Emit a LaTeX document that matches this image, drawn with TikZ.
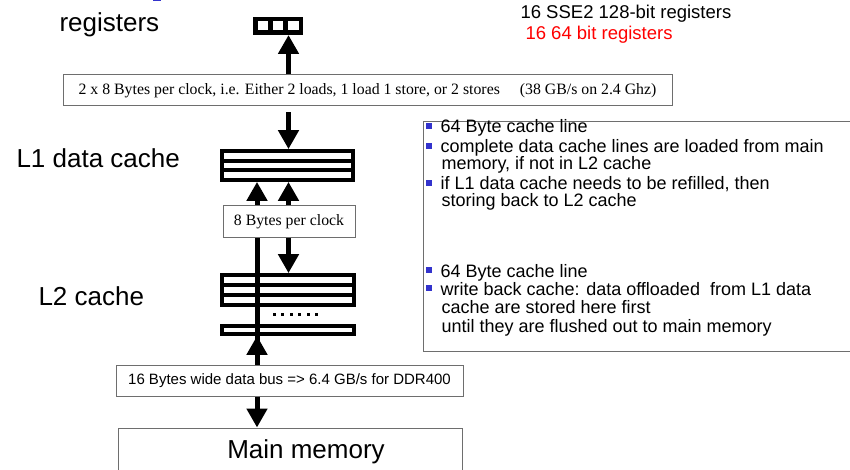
\documentclass[tikz,border=0pt]{standalone}
\usepackage{fontspec}
\setmainfont{Liberation Sans}
\newfontfamily\timesfont{Liberation Serif}
\usetikzlibrary{arrows.meta}
\definecolor{bulletblue}{RGB}{51,51,204}
\definecolor{boxgray}{RGB}{110,110,110}
\tikzset{
  bigarrow/.style={line width=5pt,-{Triangle[width=20pt,length=19pt]}},
  cacheblock/.style={draw,line width=4.3pt,inner sep=0pt,fill=white},
  infobox/.style={draw=boxgray,line width=1pt,fill=white,inner sep=0pt},
  biglabel/.style={font=\fontsize{26}{30}\selectfont,anchor=base west},
  note/.style={font=\fontsize{18}{22}\selectfont,anchor=base west},
}
\begin{document}
\begin{tikzpicture}[x=1pt,y=-1pt]
\useasboundingbox (0,0) rectangle (850,470);
\clip (0,0) rectangle (850,470);

\fill[bulletblue] (153,0) rectangle (161,1.5);

% registers
\node[draw,line width=4.5pt,inner sep=0pt,minimum width=45.5pt,minimum height=13.5pt] (regs) at (278,26) {};
\foreach \x in {270.4,285.6}
  \draw[line width=4.5pt] (\x,19.25) -- (\x,32.75);
\node[biglabel] (reglabel) at (56,32) {registers};
\node[font=\fontsize{18.5}{22}\selectfont,anchor=base west] (sse) at (517,19) {16 SSE2 128-bit registers};
\node[font=\fontsize{18.5}{22}\selectfont,anchor=base west,red] (gpr) at (522,40) {16 64 bit registers};

\node[infobox,minimum width=609pt,minimum height=31pt,font=\timesfont\fontsize{15.8}{18}\selectfont] (bw) at (367.5,90.5)
  {2 x 8 Bytes per clock, i.e. Either 2 loads, 1 load 1 store, or 2 stores\hspace{20pt}(38 GB/s on 2.4 Ghz)};

% L1 data cache
\node[cacheblock,minimum width=130.5pt,minimum height=28.5pt] (L1) at (287.5,165.5) {};
\foreach \y in {160.75,170.25}
  \draw[line width=4.3pt] (222.25,\y) -- (352.75,\y);
\node[biglabel] (L1label) at (13,168) {L1 data cache};

% L2 cache
\node[cacheblock,minimum width=131.5pt,minimum height=29.5pt] (L2) at (288,290) {};
\foreach \y in {285.1,294.9}
  \draw[line width=4.3pt] (222.25,\y) -- (353.75,\y);
\foreach \i in {0,...,5}
  \fill (273+8.4*\i,312.5) rectangle +(3,3);
\node[cacheblock,minimum width=131.5pt,minimum height=7.5pt] (L2b) at (288,330) {};
\node[biglabel] (L2label) at (35,305) {L2 cache};

\node[infobox,minimum width=347pt,minimum height=31pt,font=\fontsize{15}{18}\selectfont] (bus) at (289.5,380.5)
  {16 Bytes wide data bus => 6.4 GB/s for DDR400};
\node[infobox,minimum width=344pt,minimum height=47pt] (mm) at (290,451.5) {};
\node[font=\fontsize{26}{30}\selectfont] (mmtext) at ([xshift=16pt]mm.center) {Main memory};

\coordinate (colL) at (257,0);
\coordinate (colR) at (288.5,0);

\draw[bigarrow] (colR |- bw.north) -- (colR |- regs.south);
\draw[bigarrow,shorten <=6pt] (colR |- bw.south) -- (colR |- L1.north);
\draw[bigarrow] (colL |- bus.north) -- (colL |- L1.south);
\draw[bigarrow] (colL |- bus.north) -- (colL |- L2b.south);

\node[infobox,minimum width=132pt,minimum height=31pt,font=\timesfont\fontsize{15.8}{18}\selectfont] (perclk) at (289,221.5) {8 Bytes per clock};
\draw[bigarrow] (colR |- perclk.north) -- (colR |- L1.south);
\draw[bigarrow] (colR |- perclk.south) -- (colR |- L2.north);
\draw[bigarrow] (colL |- bus.south) -- (colL |- mm.north);

% notes
\node[draw=boxgray,line width=1pt,inner sep=0pt,minimum width=447pt,minimum height=229pt] (notes) at (646.5,236.5) {};
\foreach \y/\t [count=\i] in {133/{64 Byte cache line},
    153/{complete data cache lines are loaded from main},
    190/{if L1 data cache needs to be refilled, then},
    277/{64 Byte cache line},
    295/{write back cache: data offloaded\ \ from L1 data}} {
  \fill[bulletblue] (426,\y-10) rectangle +(6,6);
  \node[note] (item\i) at (437,\y) {\t};
}
\foreach \y/\t [count=\i] in {170/{memory, if not in L2 cache},
    207/{storing back to L2 cache},
    313/{cache are stored here first},
    332/{until they are flushed out to main memory}}
  \node[note] (cont\i) at (438,\y) {\t};
\end{tikzpicture}
\end{document}
